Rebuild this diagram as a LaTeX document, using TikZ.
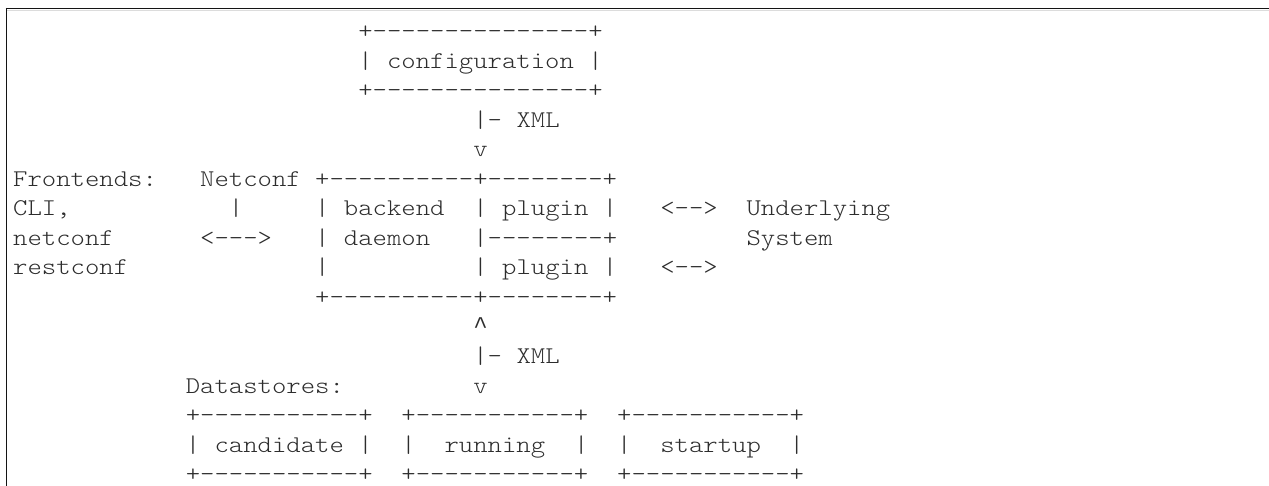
\documentclass[tikz,border=0pt]{standalone}
\usepackage{fontspec}
\setmonofont{lmmonolt10-regular.otf}[FakeStretch=1.141]
\newfontfamily\caretfont{Liberation Mono}
\definecolor{txtc}{RGB}{45,45,45}
\definecolor{rulec}{RGB}{20,20,20}
\definecolor{shadec}{RGB}{220,220,220}
\tikzset{
  txt/.style={anchor=base west, inner sep=0pt, outer sep=0pt, text=txtc,
    font=\ttfamily\fontsize{24}{29}\selectfont},
}
\newcommand\tx[4]{\node[txt] (#1) at ({13.2+14.38*#2},{-(39+29.5*#3)}) {#4};}
\begin{document}
\begin{tikzpicture}[x=1pt,y=1pt]
\useasboundingbox (0,0) rectangle (1269,-486);
% frame of the code block
\draw[shadec, line width=1pt] (7,-10.2) -- (1269,-10.2);
\draw[rulec, line width=1.3pt] (5.8,-8.6) -- (1269,-8.6);
\draw[rulec, line width=1.3pt] (6.4,-8) -- (6.4,-486);
% row 0-4: configuration
\tx{cfgtop}{24}{0}{+---------------+}
\tx{cfgl}{24}{1}{|}
\tx{cfg}{26}{1}{configuration}
\tx{cfgr}{40}{1}{|}
\tx{cfgbot}{24}{2}{+---------------+}
\tx{xmlabar}{32}{3}{|-}
\tx{xmla}{35}{3}{XML}
\tx{arra}{32}{4}{v}
% row 5-9: frontends / backend
\tx{front}{0}{5}{Frontends:}
\tx{netc}{13}{5}{Netconf}
\tx{betop}{21}{5}{+----------+--------+}
\tx{cli}{0}{6}{CLI,}
\tx{ncbar}{15}{6}{|}
\tx{bel1}{21}{6}{|}
\tx{backend}{23}{6}{backend}
\tx{bem1}{32}{6}{|}
\tx{plugina}{34}{6}{plugin}
\tx{ber1}{41}{6}{|}
\tx{arrua}{45}{6}{<-->}
\tx{under}{51}{6}{Underlying}
\tx{netconf}{0}{7}{netconf}
\tx{arrf}{13}{7}{<--->}
\tx{bel2}{21}{7}{|}
\tx{daemon}{23}{7}{daemon}
\tx{bemid}{32}{7}{|--------+}
\tx{system}{51}{7}{System}
\tx{restc}{0}{8}{restconf}
\tx{bel3}{21}{8}{|}
\tx{bem3}{32}{8}{|}
\tx{pluginb}{34}{8}{plugin}
\tx{ber3}{41}{8}{|}
\tx{arrub}{45}{8}{<-->}
\tx{bebot}{21}{9}{+----------+--------+}
% row 10-12
\tx{arrup}{32}{10}{{\caretfont\textasciicircum}}
\tx{xmlbbar}{32}{11}{|-}
\tx{xmlb}{35}{11}{XML}
\tx{dstores}{12}{12}{Datastores:}
\tx{arrdn}{32}{12}{v}
% row 13-15 datastores
\tx{candtop}{12}{13}{+-----------+}
\tx{runtop}{27}{13}{+-----------+}
\tx{starttop}{42}{13}{+-----------+}
\tx{candl}{12}{14}{|}
\tx{cand}{14}{14}{candidate}
\tx{candr}{24}{14}{|}
\tx{runl}{27}{14}{|}
\tx{run}{30}{14}{running}
\tx{runr}{39}{14}{|}
\tx{startl}{42}{14}{|}
\tx{start}{45}{14}{startup}
\tx{startr}{54}{14}{|}
\tx{candbot}{12}{15}{+-----------+}
\tx{runbot}{27}{15}{+-----------+}
\tx{startbot}{42}{15}{+-----------+}
\end{tikzpicture}
\end{document}
